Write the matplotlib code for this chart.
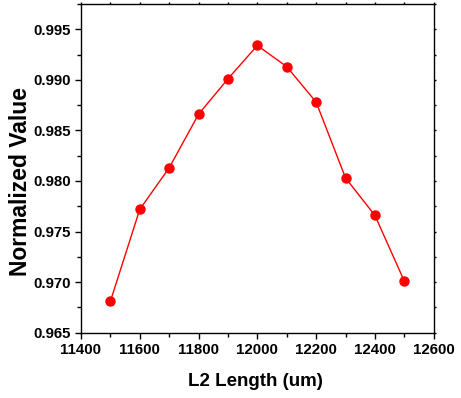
import matplotlib
matplotlib.use("Agg")
import matplotlib.pyplot as plt
from matplotlib.ticker import MultipleLocator, FormatStrFormatter

# datos
l2_length = [11500, 11600, 11700, 11800, 11900, 12000, 12100, 12200, 12300, 12400, 12500]
norm_value = [0.9681, 0.9772, 0.9813, 0.9866, 0.9901, 0.9934, 0.9913, 0.9878, 0.9803, 0.9766, 0.9701]

plt.rcParams["font.family"] = ["Liberation Sans", "DejaVu Sans"]
plt.rcParams["font.weight"] = "bold"

fig = plt.figure(figsize=(4.61, 3.98), dpi=100)
ax = fig.add_axes([0.1757, 0.164, 0.7651, 0.826])

ax.plot(l2_length, norm_value, color="red", linewidth=1.0, marker="o",
        markersize=6.5, markerfacecolor="red", markeredgecolor="red")

ax.set_xlim(11400, 12600)
ax.set_ylim(0.965, 0.9975)
ax.xaxis.set_major_locator(MultipleLocator(200))
ax.xaxis.set_minor_locator(MultipleLocator(100))
ax.yaxis.set_major_locator(MultipleLocator(0.005))
ax.yaxis.set_minor_locator(MultipleLocator(0.0025))
ax.yaxis.set_major_formatter(FormatStrFormatter("%.3f"))

ax.tick_params(which="major", direction="out", length=4, width=1, labelsize=10.8)
ax.tick_params(which="minor", direction="out", length=3, width=1)
ax.tick_params(which="both", top=True, right=True)
# ticks muy cortos en los ejes de arriba y derecha
for t in ax.xaxis.get_major_ticks() + ax.xaxis.get_minor_ticks():
    t.tick2line.set_markersize(1.5)
for t in ax.yaxis.get_major_ticks() + ax.yaxis.get_minor_ticks():
    t.tick2line.set_markersize(1.5)

for s in ax.spines.values():
    s.set_linewidth(1.0)

ax.set_xlabel("L2 Length (um)", fontsize=13.5, fontweight="bold")
ax.set_ylabel("Normalized Value", fontsize=16.5, fontweight="bold")
ax.xaxis.set_label_coords(0.495, -0.122)
ax.yaxis.set_label_coords(-0.139, 0.46)

plt.savefig("out.png", dpi=100)
